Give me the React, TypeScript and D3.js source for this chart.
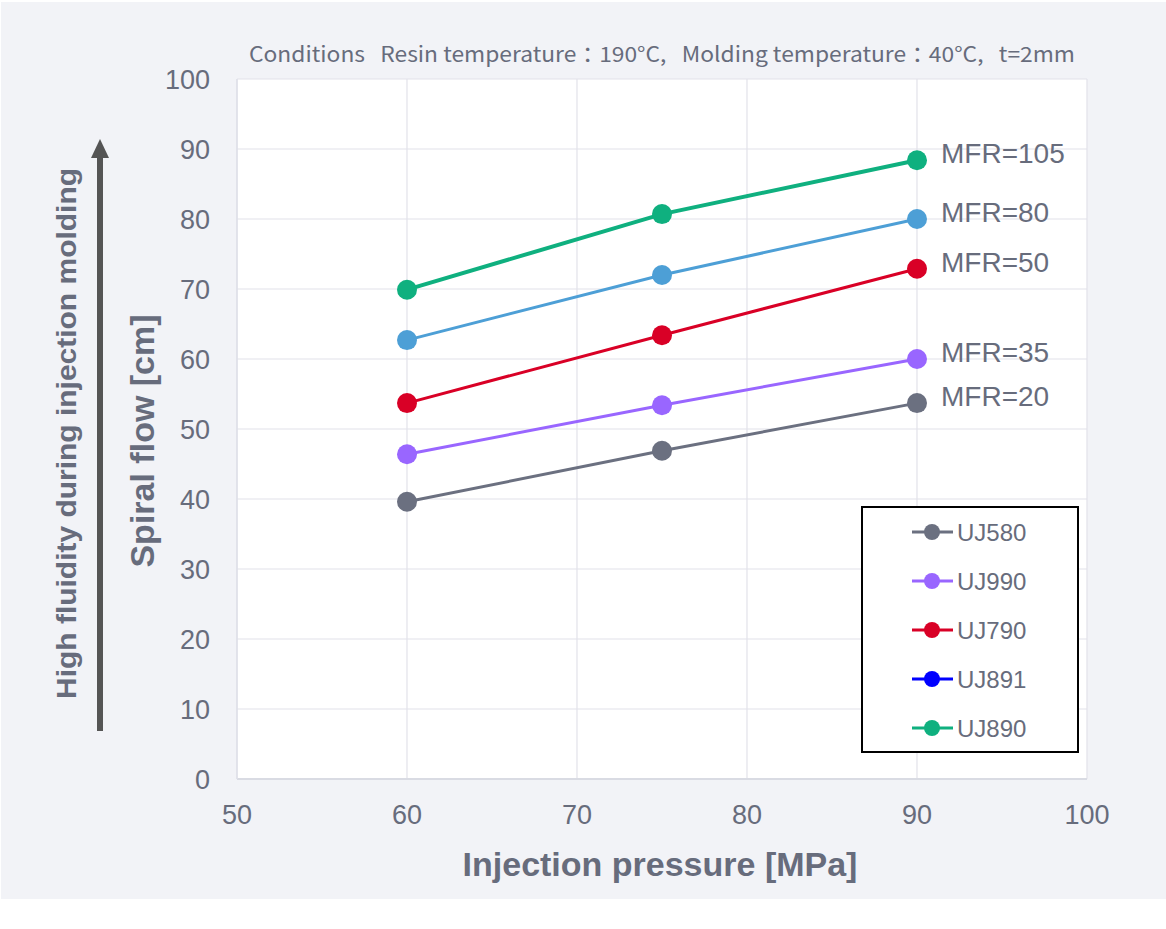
import React from "react";
import * as d3 from "d3";

const pressures = [60, 75, 90];
const seriesNames = ["UJ580", "UJ990", "UJ790", "UJ891", "UJ890"];
const mfrLabels = ["MFR=20", "MFR=35", "MFR=50", "MFR=80", "MFR=105"];
const uj580 = [39.6, 46.9, 53.7];
const uj990 = [46.4, 53.4, 60.0];
const uj790 = [53.7, 63.4, 72.9];
const uj891 = [62.7, 72.0, 80.0];
const uj890 = [69.9, 80.7, 88.4];
const lineColors = ["#6b7080", "#9966ff", "#d90026", "#4d9fd6", "#0fb07f"];
const legendColors = ["#6b7080", "#9966ff", "#d90026", "#0000ff", "#0fb07f"];
const lineWidths = [3, 3, 3, 3, 4];
const xTicks = [50, 60, 70, 80, 90, 100];
const yTicks = [0, 10, 20, 30, 40, 50, 60, 70, 80, 90, 100];
const titleText = "Conditions\u00a0\u00a0\u00a0Resin temperature\uff1a190°C,\u00a0\u00a0\u00a0Molding temperature\uff1a40°C,\u00a0\u00a0\u00a0t=2mm";

const allValues = [uj580, uj990, uj790, uj891, uj890];

export default function App() {
  const W = 1166, H = 929;
  const left = 237, right = 1087, top = 79, bottom = 779;
  const x = d3.scaleLinear().domain([50, 100]).range([left, right]);
  const y = d3.scaleLinear().domain([0, 100]).range([bottom, top]);
  const line = d3.line<[number, number]>().x(d => x(d[0])).y(d => y(d[1]));
  const textCol = "#676c7c";
  const font = "'Liberation Sans', Arial, Helvetica, sans-serif";

  return (
    <svg width={W} height={H} style={{ position: "absolute", left: 0, top: 0 }}>
      <rect x={0} y={0} width={W} height={H} fill="#ffffff" />
      <rect x={1} y={2} width={1165} height={897} fill="#f2f3f7" />
      <rect x={left} y={top} width={right - left} height={bottom - top} fill="#ffffff" />
      {xTicks.map(t => (
        <line key={"gx" + t} x1={x(t)} x2={x(t)} y1={top} y2={bottom} stroke="#e2e2ea" strokeWidth={1.2} />
      ))}
      {yTicks.map(t => (
        <line key={"gy" + t} x1={left} x2={right} y1={y(t)} y2={y(t)} stroke="#e2e2ea" strokeWidth={1.2} />
      ))}
      <line x1={left} x2={right} y1={bottom} y2={bottom} stroke="#d9dbe3" strokeWidth={2} />
      <line x1={left} x2={left} y1={top} y2={bottom} stroke="#dfe0e8" strokeWidth={1.5} />

      <text x={249} y={62} fontFamily="'Noto Sans CJK JP', 'Noto Sans', sans-serif" fontSize={21} fill={textCol}
        textLength={826} lengthAdjust="spacingAndGlyphs">{titleText}</text>

      {yTicks.map(t => (
        <text key={"ty" + t} x={210} y={y(t) + 9.5} textAnchor="end" fontFamily={font} fontSize={27} fill={textCol}>{t}</text>
      ))}
      {xTicks.map(t => (
        <text key={"tx" + t} x={x(t)} y={824} textAnchor="middle" fontFamily={font} fontSize={27} fill={textCol}>{t}</text>
      ))}

      <text x={660} y={876} textAnchor="middle" fontFamily={font} fontSize={34} fontWeight="bold" fill={textCol}>Injection pressure [MPa]</text>
      <text transform={`translate(154,441) rotate(-90)`} textAnchor="middle" fontFamily={font} fontSize={34} fontWeight="bold" fill={textCol}>Spiral flow [cm]</text>
      <text transform={`translate(76,433.5) rotate(-90)`} x={-265.5} fontFamily={font} fontSize={27} fontWeight="bold" fill={textCol}
        textLength={531} lengthAdjust="spacingAndGlyphs">High fluidity during injection molding</text>

      <line x1={100} x2={100} y1={731} y2={155} stroke="#555555" strokeWidth={6} />
      <path d="M100,139 L109,158 L91,158 Z" fill="#555555" />

      {allValues.map((vals, i) => {
        const pts: [number, number][] = pressures.map((p, j) => [p, vals[j]]);
        return (
          <g key={"s" + i}>
            <path d={line(pts) || ""} fill="none" stroke={lineColors[i]} strokeWidth={lineWidths[i]} />
            {pts.map((p, j) => (
              <circle key={j} cx={x(p[0])} cy={y(p[1])} r={10} fill={lineColors[i]} />
            ))}
            <text x={941} y={y(vals[vals.length - 1]) + 3} fontFamily={font} fontSize={28} fill={textCol}>{mfrLabels[i]}</text>
          </g>
        );
      })}

      <rect x={862} y={507} width={216} height={245} fill="#ffffff" stroke="#000000" strokeWidth={2} />
      {seriesNames.map((n, i) => {
        const cy = 532 + i * 49;
        return (
          <g key={"lg" + i}>
            <line x1={912} x2={953} y1={cy} y2={cy} stroke={legendColors[i]} strokeWidth={3} />
            <circle cx={932} cy={cy} r={8} fill={legendColors[i]} />
            <text x={957} y={cy + 8.5} fontFamily={font} fontSize={24} fill={textCol}>{n}</text>
          </g>
        );
      })}
    </svg>
  );
}
